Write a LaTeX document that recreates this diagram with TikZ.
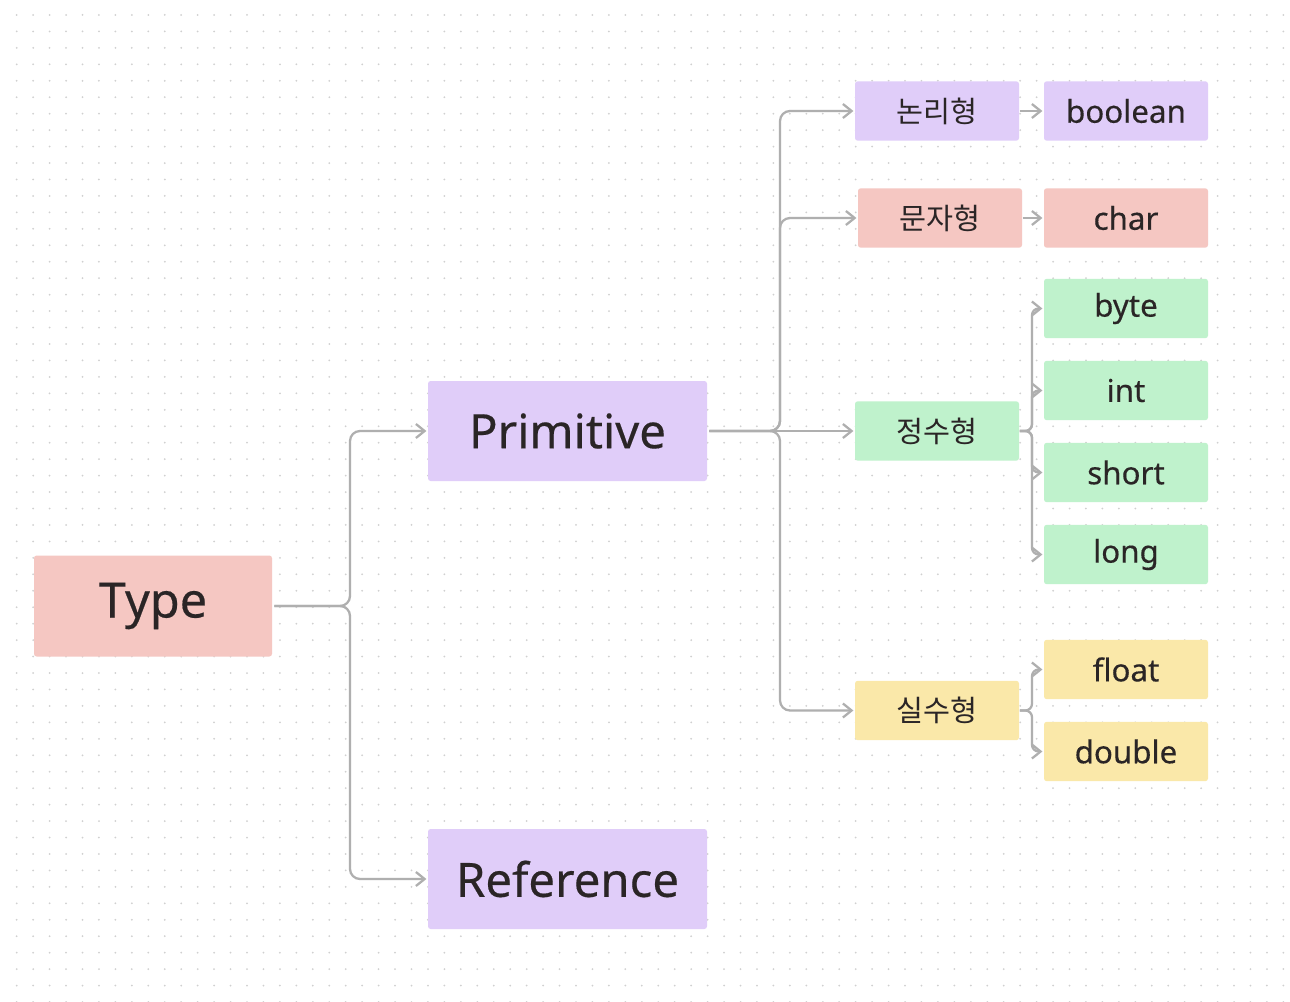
\documentclass[tikz,border=0pt]{standalone}
\usepackage{fontspec}
\setmainfont{Noto Sans}[FakeBold=0.35]
\newfontfamily\kr{Noto Sans CJK KR}
\usetikzlibrary{arrows.meta}
\definecolor{pur}{HTML}{E0CDF9}
\definecolor{pnk}{HTML}{F5C7C2}
\definecolor{grn}{HTML}{BFF2CC}
\definecolor{yel}{HTML}{FAE8A9}
\definecolor{txt}{HTML}{2A2526}
\definecolor{lnc}{HTML}{AFAFAF}
\definecolor{dotc}{HTML}{D0D0D0}
\begin{document}
\begin{tikzpicture}[x=0.75pt,y=-0.75pt,
  box/.style={rounded corners=2pt, inner sep=0pt, text=txt, align=center},
  bigbox/.style={box, minimum width=209.25pt, minimum height=75pt, font=\bfseries\fontsize{35.5}{40}\selectfont},
  smallbox/.style={box, minimum width=123pt, minimum height=44.5pt, font=\bfseries\fontsize{23.5}{28}\selectfont},
  krbox/.style={box, minimum width=123pt, minimum height=44.5pt, font=\kr\fontsize{22}{26}\selectfont},
  conn/.style={draw=lnc, line width=1.7pt, rounded corners=7.5pt, shorten >=1pt, shorten <=1.5pt,
    -{Straight Barb[length=6.5pt,width=10.5pt]}},
  sconn/.style={conn, rounded corners=5pt, shorten <=0.5pt},
]
\useasboundingbox[fill=white] (0,0) rectangle (1290,1002);
\foreach \i in {0,...,78}{
  \foreach \j in {0,...,60}{
    \fill[dotc] ({16.7+16.45*\i},{15+16.45*\j}) circle (0.75pt);
  }
}
% nodes
\node[box, fill=pnk, minimum width=178.5pt, minimum height=75.75pt, font=\bfseries\fontsize{36.5}{40}\selectfont] (type) at (153,606) {Type};
\node[bigbox, fill=pur] (prim) at (567.5,431) {Primitive};
\node[bigbox, fill=pur] (ref) at (567.5,879) {Reference};

\node[krbox, fill=pur] (logic) at (937,111) {논리형};
\node[krbox, fill=pnk] (chr) at (940,218) {문자형};
\node[krbox, fill=grn] (intg) at (937,431) {정수형};
\node[krbox, fill=yel] (real) at (937,710.5) {실수형};

\node[smallbox, fill=pur] (boolean) at (1126,111) {boolean};
\node[smallbox, fill=pnk] (char) at (1126,218) {char};
\node[smallbox, fill=grn] (byte) at (1126,308.5) {byte};
\node[smallbox, fill=grn] (int) at (1126,390.5) {int};
\node[smallbox, fill=grn] (short) at (1126,472.5) {short};
\node[smallbox, fill=grn] (long) at (1126,554.5) {long};
\node[smallbox, fill=yel] (float) at (1126,669.5) {float};
\node[smallbox, fill=yel] (double) at (1126,751.5) {double};

% junctions
\coordinate (j1) at (350,606);
\coordinate (j2) at (780,431);
\coordinate (j3) at (1032,431);
\coordinate (j4) at (1032,710.5);

% connectors
\draw[conn] (type.east) -- (j1) |- (prim.west);
\draw[conn] (type.east) -- (j1) |- (ref.west);

\draw[conn] (prim.east) -- (j2) |- (logic.west);
\draw[conn] (prim.east) -- (j2) |- (chr.west);
\draw[conn] (prim.east) -- (intg.west);
\draw[conn] (prim.east) -- (j2) |- (real.west);

\draw[sconn] (logic.east) -- (boolean.west);
\draw[sconn] (chr.east) -- (char.west);

\draw[sconn] (intg.east) -- (j3) |- (byte.west);
\draw[sconn] (intg.east) -- (j3) |- (int.west);
\draw[sconn] (intg.east) -- (j3) |- (short.west);
\draw[sconn] (intg.east) -- (j3) |- (long.west);

\draw[sconn] (real.east) -- (j4) |- (float.west);
\draw[sconn] (real.east) -- (j4) |- (double.west);
\end{tikzpicture}
\end{document}
